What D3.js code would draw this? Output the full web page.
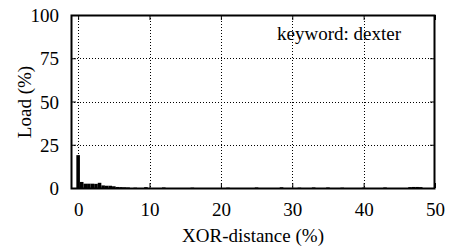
<!DOCTYPE html>
<html>
<head>
<meta charset="utf-8">
<script src="https://cdn.jsdelivr.net/npm/d3@7"></script>
<style>
  body { margin: 0; background: #fff; }
</style>
</head>
<body>
<svg id="chart" width="455" height="247"></svg>
<script>
// histogram of load per XOR-distance bin (bin width 0.5 %)
const binCenters = [0, 0.5, 1, 1.5, 2, 2.5, 3, 3.5, 4, 4.5, 5, 5.5, 6, 6.5, 7, 8, 9.5, 12, 16, 21, 25, 28.5, 31, 33, 35, 37, 40, 43, 46.5, 47, 47.5, 48];
const loads = [19, 3.5, 2.5, 2.5, 2.5, 2.4, 3, 1.5, 1.3, 1.3, 1.0, 0.6, 0.5, 0.4, 0.3, 0.2, 0.5, 0.3, 0.2, 0.2, 0.3, 0.4, 0.2, 0.3, 0.3, 0.2, 0.2, 0.3, 0.5, 0.6, 0.6, 0.5];
const binWidth = 0.5;
const xTicks = [0, 10, 20, 30, 40, 50];
const yTicks = [0, 25, 50, 75, 100];
const keyLabel = "keyword: dexter";

const serif = "Liberation Serif";
const fs = 19;

const svg = d3.select("#chart");
const mLeft = 71, mRight = 435, mTop = 15, mBottom = 188;

const x = d3.scaleLinear().domain([-1, 50]).range([mLeft, mRight]);
const y = d3.scaleLinear().domain([0, 100]).range([mBottom, mTop]);

// grid (dotted)
const grid = svg.append("g")
  .attr("stroke", "#000")
  .attr("stroke-width", 1)
  .attr("stroke-dasharray", "1,2");
grid.selectAll(".gy")
  .data(yTicks.filter((d) => d > 0 && d < 100))
  .enter()
  .append("line")
  .attr("x1", mLeft)
  .attr("x2", mRight)
  .attr("y1", (d) => Math.round(y(d)) + 0.5)
  .attr("y2", (d) => Math.round(y(d)) + 0.5);
grid.selectAll(".gx")
  .data(xTicks.filter((d) => d < 50))
  .enter()
  .append("line")
  .attr("x1", (d) => Math.round(x(d)) + 0.5)
  .attr("x2", (d) => Math.round(x(d)) + 0.5)
  .attr("y1", mTop)
  .attr("y2", mBottom);

// bars
svg.append("g")
  .selectAll("rect")
  .data(binCenters)
  .enter()
  .append("rect")
  .attr("x", (d) => x(d - binWidth / 2))
  .attr("width", (d) => x(d + binWidth / 2) - x(d - binWidth / 2))
  .attr("y", (d, i) => y(loads[i]))
  .attr("height", (d, i) => y(0) - y(loads[i]))
  .attr("fill", "#000");

// axes with inward ticks, mirrored
const xAxis = svg.append("g")
  .attr("transform", "translate(0," + mBottom + ")")
  .call(d3.axisBottom(x).tickValues(xTicks).tickSizeInner(-5).tickSizeOuter(0).tickPadding(0));
const xAxisTop = svg.append("g")
  .attr("transform", "translate(0," + mTop + ")")
  .call(d3.axisTop(x).tickValues(xTicks).tickSizeInner(-5).tickSizeOuter(0).tickFormat(""));
const yAxis = svg.append("g")
  .attr("transform", "translate(" + mLeft + ",0)")
  .call(d3.axisLeft(y).tickValues(yTicks).tickSizeInner(-5).tickSizeOuter(0).tickPadding(12));
const yAxisRight = svg.append("g")
  .attr("transform", "translate(" + mRight + ",0)")
  .call(d3.axisRight(y).tickValues(yTicks).tickSizeInner(-5).tickSizeOuter(0).tickFormat(""));

[xAxis, xAxisTop, yAxis, yAxisRight].forEach((g) => {
  g.select(".domain").remove();
  g.attr("font-family", serif).attr("font-size", fs);
  g.selectAll("line").attr("stroke", "#000");
  g.selectAll("text").attr("fill", "#000");
});
yAxis.selectAll("text").attr("x", -12).attr("dy", "0.35em");
xAxis.selectAll("text").attr("y", 28).attr("dy", 0);

// frame
svg.append("rect")
  .attr("x", mLeft + 0.5)
  .attr("y", mTop + 0.5)
  .attr("width", mRight - mLeft - 1)
  .attr("height", mBottom - mTop)
  .attr("fill", "none")
  .attr("stroke", "#000")
  .attr("stroke-width", 2);

// labels
const labels = svg.append("g").attr("font-family", serif).attr("font-size", fs);
labels.append("text")
  .attr("x", 253)
  .attr("y", 242)
  .attr("text-anchor", "middle")
  .text("XOR-distance (%)");

labels.append("text")
  .attr("transform", "translate(31," + 102 + ") rotate(-90)")
  .attr("text-anchor", "middle")
  .text("Load (%)");

labels.append("text")
  .attr("x", 401)
  .attr("y", 40)
  .attr("text-anchor", "end")
  .text(keyLabel);
</script>
</body>
</html>
